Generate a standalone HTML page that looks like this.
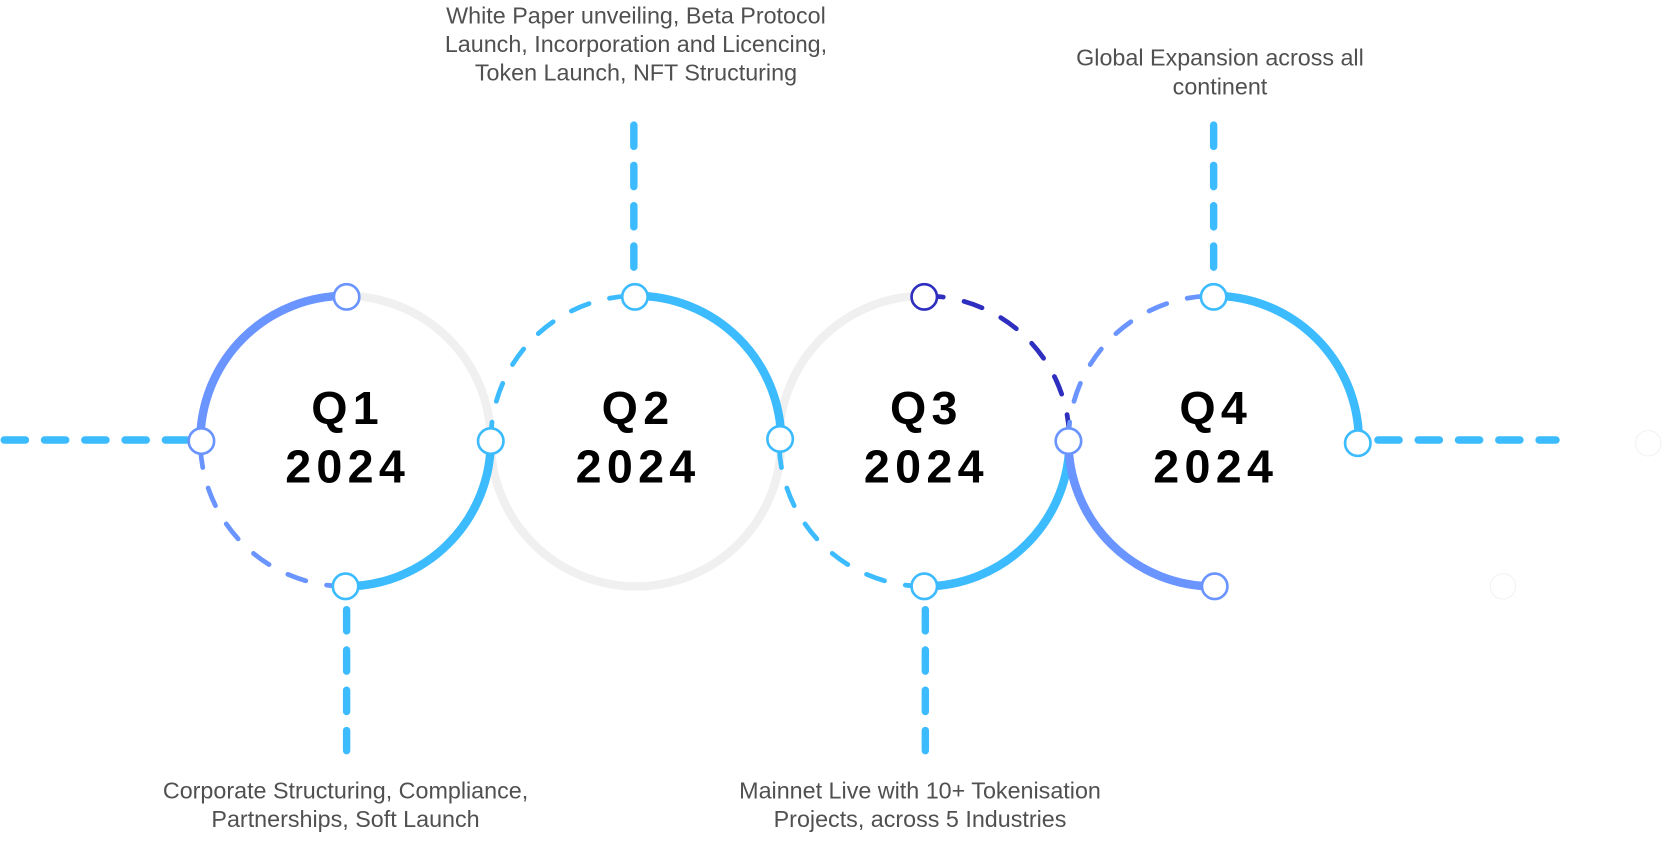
<!DOCTYPE html>
<html><head><style>
html,body{margin:0;padding:0;background:#fff;width:1662px;height:862px;overflow:hidden}
svg{display:block}
.t{font-family:"Liberation Sans",sans-serif;font-size:22px;fill:#505050;text-anchor:middle}
.q{font-family:"Liberation Sans",sans-serif;font-size:44px;font-weight:bold;fill:#000;text-anchor:middle;letter-spacing:5px}
</style></head><body>
<svg width="1662" height="862" viewBox="0 0 1568 813" preserveAspectRatio="none">
<g fill="none" stroke-linecap="round">
<g stroke="#3dbbff" stroke-width="7" stroke-dasharray="20 18">
<path d="M4,415 H178"/>
<path d="M1300,415 H1468"/>
<path d="M598,118 V258"/>
<path d="M1145,118 V258"/>
<path d="M327,575 V708"/>
<path d="M873,575 V708"/>
</g>
<g stroke="#f0f0f0" stroke-width="8">
<path d="M326,279 A137,137 0 0 1 463,416"/>
<path d="M737,416 A137,137 0 0 1 463,416"/>
<path d="M735,416 A137,137 0 0 1 872,279"/>
</g>
<g stroke-width="8">
<path d="M189,416 A137,137 0 0 1 326,279" stroke="#6a94ff"/>
<path d="M463,416 A137,137 0 0 1 326,553" stroke="#3dbbff"/>
<path d="M600,279 A137,137 0 0 1 737,416" stroke="#3dbbff"/>
<path d="M1009,416 A137,137 0 0 1 872,553" stroke="#3dbbff"/>
<path d="M1145,279 A137,137 0 0 1 1282,416" stroke="#3dbbff"/>
<path d="M1008,416 A137,137 0 0 0 1145,553" stroke="#6a94ff"/>
</g>
<g stroke-width="4.5" stroke-dasharray="18 20">
<path d="M326,553 A137,137 0 0 1 189,416" stroke="#6a94ff"/>
<path d="M463,416 A137,137 0 0 1 600,279" stroke="#3dbbff"/>
<path d="M872,279 A137,137 0 0 1 1009,416" stroke="#2e2fbf"/>
<path d="M872,553 A137,137 0 0 1 735,416" stroke="#3dbbff"/>
<path d="M1008,416 A137,137 0 0 1 1145,279" stroke="#6a94ff"/>
</g>
</g>
<g fill="#fff" stroke-width="2.5">
<circle cx="327" cy="280" r="12" stroke="#6a94ff"/>
<circle cx="190" cy="416" r="12" stroke="#6a94ff"/>
<circle cx="463" cy="416" r="12" stroke="#3dbbff"/>
<circle cx="326" cy="553" r="12" stroke="#3dbbff"/>
<circle cx="599" cy="280" r="12" stroke="#3dbbff"/>
<circle cx="736" cy="414" r="12" stroke="#3dbbff"/>
<circle cx="872" cy="280" r="12" stroke="#2e2fbf"/>
<circle cx="1008" cy="416" r="12" stroke="#6a94ff"/>
<circle cx="872" cy="553" r="12" stroke="#3dbbff"/>
<circle cx="1145" cy="280" r="12" stroke="#3dbbff"/>
<circle cx="1281" cy="418" r="12" stroke="#3dbbff"/>
<circle cx="1146" cy="553" r="12" stroke="#6a94ff"/>
<circle cx="1555" cy="418" r="12" stroke="#f2f2f2" stroke-width="1"/>
<circle cx="1418" cy="553" r="12" stroke="#f2f2f2" stroke-width="1"/>
</g>
<text class="q" x="328" y="400">Q1</text><text class="q" x="328" y="455">2024</text>
<text class="q" x="602" y="400">Q2</text><text class="q" x="602" y="455">2024</text>
<text class="q" x="874" y="400">Q3</text><text class="q" x="874" y="455">2024</text>
<text class="q" x="1147" y="400">Q4</text><text class="q" x="1147" y="455">2024</text>
<text class="t" x="600" y="22">White Paper unveiling, Beta Protocol</text>
<text class="t" x="600" y="49">Launch, Incorporation and Licencing,</text>
<text class="t" x="600" y="76">Token Launch, NFT Structuring</text>
<text class="t" x="1151" y="62">Global Expansion across all</text>
<text class="t" x="1151" y="89">continent</text>
<text class="t" x="326" y="753">Corporate Structuring, Compliance,</text>
<text class="t" x="326" y="780">Partnerships, Soft Launch</text>
<text class="t" x="868" y="753">Mainnet Live with 10+ Tokenisation</text>
<text class="t" x="868" y="780">Projects, across 5 Industries</text>
</svg>
</body></html>
